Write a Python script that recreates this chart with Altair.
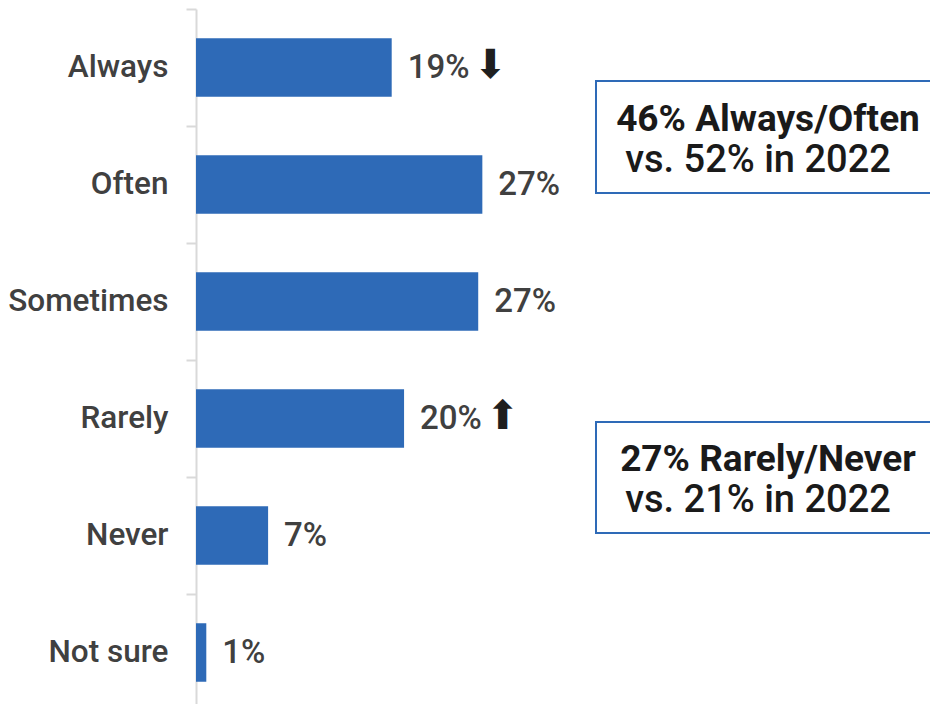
import altair as alt
import pandas as pd

CATEGORIES = ["Always", "Often", "Sometimes", "Rarely", "Never", "Not sure"]
VALUES = [19.0, 27.8, 27.4, 20.2, 7.0, 1.0]
LABELS = ["19%", "27%", "27%", "20%", "7%", "1%"]
ARROWS = ["\u2B07", "", "", "\u2B06", "", ""]

BOX1_LINES = ["46% Always/Often", "vs. 52% in 2022"]
BOX2_LINES = ["27% Rarely/Never", "vs. 21% in 2022"]

df = pd.DataFrame({"cat": CATEGORIES, "val": VALUES, "label": LABELS, "arrow": ARROWS})

W, H = 734, 696
BLUE = "#2E6AB7"
GREY_TXT = "#404040"
FONT = "Roboto"

y_enc = alt.Y(
    "cat:N",
    sort=CATEGORIES,
    scale=alt.Scale(domain=CATEGORIES, range=[1, 703], paddingInner=0, paddingOuter=0),
    axis=alt.Axis(
        title=None,
        labelFont=FONT,
        labelFontSize=31.5,
        labelFontWeight=500,
        labelColor=GREY_TXT,
        labelPadding=18,
        tickSize=10,
        tickColor="#d9d9d9",
        tickWidth=2,
        domainColor="#d9d9d9",
        domainWidth=2,
        tickBand="extent",
        grid=False,
    ),
)
x_enc = alt.X("val:Q", scale=alt.Scale(domain=[0, W / 10.3]), axis=None)

base = alt.Chart(df)
bars = base.mark_bar(color=BLUE, height=alt.RelativeBandSize(0.5)).encode(x=x_enc, y=y_enc)
labels = base.mark_text(
    align="left", baseline="middle", dx=16, font=FONT, fontSize=33, fontWeight=500, color=GREY_TXT
).encode(x=x_enc, y=y_enc, text="label:N")
arrows = base.mark_text(
    align="left", baseline="middle", dx=82, dy=-2, font="DejaVu Sans", fontSize=40, color="#1f1f1f"
).encode(x=x_enc, y=y_enc, text="arrow:N")

one = pd.DataFrame({"k": [0]})
ann_layers = []
for (top, bottom, base1, base2), lines in [
    ((73, 185, 123, 164), BOX1_LINES),
    ((414, 525, 463, 504), BOX2_LINES),
]:
    ann_layers.append(
        alt.Chart(one).mark_rect(fill="white", fillOpacity=0, stroke=BLUE, strokeWidth=2).encode(
            x=alt.value(400), x2=alt.value(760), y=alt.value(top), y2=alt.value(bottom)
        )
    )
    ann_layers.append(
        alt.Chart(one).mark_text(
            align="center", baseline="alphabetic", font=FONT, fontSize=37, fontWeight="bold", color="#1a1a1a"
        ).encode(x=alt.value(572), y=alt.value(base1), text=alt.value(lines[0]))
    )
    ann_layers.append(
        alt.Chart(one).mark_text(
            align="center", baseline="alphabetic", font=FONT, fontSize=38, fontWeight=500, color="#1a1a1a"
        ).encode(x=alt.value(562), y=alt.value(base2), text=alt.value(lines[1]))
    )

chart = alt.layer(bars, labels, arrows, *ann_layers).properties(
    width=W,
    height=H,
    autosize=alt.AutoSizeParams(type="none"),
    padding={"left": 188, "top": 0, "right": 0, "bottom": 0},
    background="white",
).configure_view(stroke=None)

chart.save("out.html", embed_options={"renderer": "svg", "actions": False})
